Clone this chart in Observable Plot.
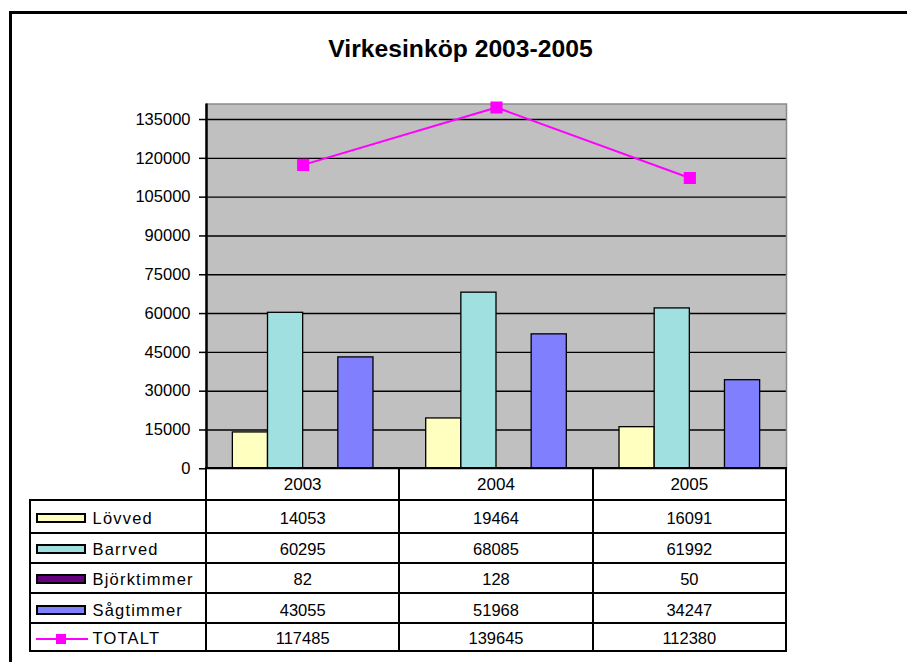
<!DOCTYPE html>
<html>
<head>
<meta charset="utf-8">
<script src="https://cdn.jsdelivr.net/npm/d3@7"></script>
<script src="https://cdn.jsdelivr.net/npm/@observablehq/plot@0.6"></script>
<style>
html,body{margin:0;padding:0;background:#fff;overflow:hidden;}
body{width:907px;height:662px;position:relative;font-family:"Liberation Sans",Arial,sans-serif;color:#000;}
#frame{position:absolute;left:9px;top:11px;width:1000px;height:1000px;border-top:3px solid #000;border-left:3px solid #000;}
#title{position:absolute;left:0;width:921px;top:37px;text-align:center;font-weight:bold;font-size:24.7px;line-height:24px;}
#wrap{position:absolute;left:0;top:0;}
#wrap svg{display:block;}
.hl,.vl{position:absolute;background:#000;}
.cell{position:absolute;display:flex;align-items:center;justify-content:center;font-size:16.5px;line-height:16px;}
.lab{position:absolute;display:flex;align-items:center;font-size:16.5px;line-height:16px;letter-spacing:1.2px;}
.sw{position:absolute;box-sizing:border-box;border:2px solid #000;}
</style>
</head>
<body>
<div id="frame"></div>
<div id="title">Virkesinköp 2003-2005</div>
<div id="wrap"></div>
<div id="table"></div>
<script>
const years = ["2003", "2004", "2005"];
const series = ["Lövved", "Barrved", "Björktimmer", "Sågtimmer"];
const lovved = [14053, 19464, 16091];
const barrved = [60295, 68085, 61992];
const bjorktimmer = [82, 128, 50];
const sagtimmer = [43055, 51968, 34247];
const totalt = [117485, 139645, 112380];
const totalName = "TOTALT";
const seriesColors = ["#FFFFC0", "#A0E0E0", "#660080", "#8080FF"];
const totalColor = "#FF00FF";
const yTicks = [0, 15000, 30000, 45000, 60000, 75000, 90000, 105000, 120000, 135000];

const seriesValues = [lovved, barrved, bjorktimmer, sagtimmer];
const barRows = series.flatMap((s, si) => years.map((y, yi) => ({year: y, yi, series: s, si, value: seriesValues[si][yi]})));
const totRows = years.map((y, yi) => ({year: y, yi, value: totalt[yi]}));

// grouped layout within each year band: 4 bars + gap of 1.5 bar widths
const nb = series.length, gap = 1.5, unit = nb + gap;
const bx1 = d => d.yi + (gap / 2 + d.si) / unit;
const bx2 = d => d.yi + (gap / 2 + d.si + 1) / unit;

const chart = Plot.plot({
  width: 907,
  height: 662,
  marginLeft: 206,
  marginRight: 121,
  marginTop: 103.5,
  marginBottom: 193.7,
  style: {fontFamily: "'Liberation Sans', Arial, sans-serif", fontSize: "16.5px", color: "#000", background: "transparent", overflow: "visible"},
  x: {domain: [0, years.length], axis: null},
  y: {domain: [0, 141000], axis: null},
  color: {domain: series, range: seriesColors},
  marks: [
    Plot.frame({fill: "#C0C0C0", stroke: null}),
    Plot.ruleY(yTicks.filter(v => v > 0), {stroke: "#000", strokeWidth: 1.4}),
    Plot.rect(barRows, {x1: bx1, x2: bx2, y1: 0, y2: "value", fill: "series", stroke: "#000", strokeWidth: 1.3}),
    Plot.frame({stroke: "#8a8a8a", strokeWidth: 1.5}),
    Plot.line(totRows, {x: d => d.yi + 0.5, y: "value", stroke: totalColor, strokeWidth: 2}),
    Plot.dot(totRows, {x: d => d.yi + 0.5, y: "value", symbol: "square", r: 6, fill: totalColor, stroke: totalColor}),
    Plot.ruleX([0], {stroke: "#000", strokeWidth: 2.5}),
    Plot.axisY({ticks: yTicks, label: null, tickSize: 7, tickPadding: 9, tickFormat: d => String(d), strokeWidth: 1.5, fontSize: 16.5})
  ]
});
document.getElementById("wrap").append(chart);

// data table below the plot, columns aligned with the x scale
const sx = chart.scale("x");
const colX = [30, ...d3.range(years.length + 1).map(i => sx.apply(i))];
const rowY = [468.3, 500, 532.5, 562.5, 593, 623.3, 650.7];
const lw = 2;
const tbl = document.getElementById("table");
function add(cls, css, html) {
  const e = document.createElement("div");
  e.className = cls;
  Object.assign(e.style, css);
  if (html != null) e.innerHTML = html;
  tbl.append(e);
  return e;
}
const xEnd = colX[colX.length - 1];
// horizontal lines
rowY.forEach((y, i) => {
  const x0 = i === 0 ? colX[1] : colX[0];
  add("hl", {left: (x0 - lw / 2) + "px", top: (y - lw / 2) + "px", width: (xEnd - x0 + lw) + "px", height: lw + "px"});
});
// vertical lines
colX.forEach((x, i) => {
  const y0 = i === 0 ? rowY[1] : rowY[0];
  add("vl", {left: (x - lw / 2) + "px", top: (y0 - lw / 2) + "px", width: lw + "px", height: (rowY[rowY.length - 1] - y0 + lw) + "px"});
});
// header years
years.forEach((y, i) => {
  add("cell", {left: colX[i + 1] + "px", top: (rowY[0] + 1) + "px", width: (colX[i + 2] - colX[i + 1]) + "px", height: (rowY[1] - rowY[0]) + "px", fontSize: "17px"}, y);
});
// rows
const allNames = [...series, totalName];
const allValues = [...seriesValues, totalt];
allNames.forEach((name, r) => {
  const top = rowY[r + 1], h = rowY[r + 2] - rowY[r + 1];
  const mid = top + h / 2 + 1.5;
  if (r < series.length) {
    add("sw", {left: "36px", top: (mid - 5) + "px", width: "50px", height: "10px", background: seriesColors[r]});
  } else {
    add("sw", {left: "36px", top: (mid - 1) + "px", width: "52px", height: "2px", border: "none", background: totalColor});
    add("sw", {left: "56px", top: (mid - 5) + "px", width: "10px", height: "10px", border: "none", background: totalColor});
  }
  add("lab", {left: "92.5px", top: (top + 1.5) + "px", height: h + "px"}, name);
  allValues[r].forEach((v, i) => {
    add("cell", {left: colX[i + 1] + "px", top: (top + 1.5) + "px", width: (colX[i + 2] - colX[i + 1]) + "px", height: h + "px"}, String(v));
  });
});
</script>
</body>
</html>
